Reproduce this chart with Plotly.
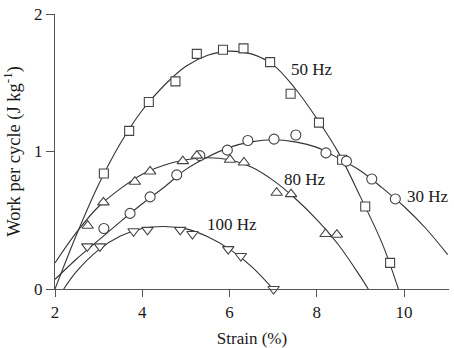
import plotly.graph_objects as go

# ---- data ----
# 50 Hz (squares)
sq_x = [3.12, 3.70, 4.15, 4.76, 5.25, 5.85, 6.32, 6.93, 7.40, 8.05, 8.58, 9.11, 9.68]
sq_y = [0.84, 1.15, 1.36, 1.51, 1.71, 1.74, 1.75, 1.65, 1.42, 1.21, 0.94, 0.60, 0.19]
fit50_x = [2.0, 2.5, 3.0, 3.5, 4.0, 4.5, 5.0, 5.5, 6.0, 6.5, 7.0, 7.5, 8.0, 8.5, 9.0, 9.5, 9.87]
fit50_y = [0.0, 0.40, 0.76, 1.06, 1.30, 1.48, 1.62, 1.70, 1.73, 1.71, 1.63, 1.46, 1.24, 0.99, 0.67, 0.33, 0.0]

# 30 Hz (circles)
ci_x = [3.12, 3.72, 4.18, 4.79, 5.32, 5.95, 6.42, 7.02, 7.52, 8.21, 8.68, 9.26, 9.80]
ci_y = [0.44, 0.55, 0.67, 0.83, 0.97, 1.01, 1.08, 1.09, 1.12, 0.99, 0.93, 0.80, 0.655]
fit30_x = [2.0, 2.5, 3.0, 3.5, 4.0, 4.5, 5.0, 5.5, 6.0, 6.5, 7.0, 7.5, 8.0, 8.5, 9.0, 9.5, 10.0, 10.5, 11.0]
fit30_y = [0.07, 0.22, 0.355, 0.49, 0.62, 0.74, 0.87, 0.96, 1.03, 1.07, 1.085, 1.07, 1.03, 0.95, 0.86, 0.735, 0.60, 0.44, 0.25]

# 80 Hz (triangles up)
tu_x = [2.75, 3.11, 3.83, 4.18, 4.93, 5.25, 6.01, 6.33, 7.08, 7.41, 8.20, 8.46]
tu_y = [0.46, 0.63, 0.78, 0.855, 0.93, 0.97, 0.94, 0.92, 0.70, 0.69, 0.40, 0.395]
fit80_x = [2.0, 2.5, 3.0, 3.5, 4.0, 4.5, 5.0, 5.5, 6.0, 6.5, 7.0, 7.5, 8.0, 8.5, 9.0, 9.18]
fit80_y = [0.19, 0.415, 0.60, 0.73, 0.835, 0.90, 0.94, 0.955, 0.94, 0.887, 0.79, 0.66, 0.505, 0.32, 0.09, 0.0]

# 100 Hz (triangles down)
td_x = [2.74, 3.03, 3.80, 4.12, 4.87, 5.15, 5.97, 6.26, 7.01]
td_y = [0.31, 0.31, 0.42, 0.43, 0.43, 0.40, 0.29, 0.24, 0.0]
fit100_x = [2.2, 2.5, 3.0, 3.5, 4.0, 4.5, 5.0, 5.5, 6.0, 6.5, 7.0]
fit100_y = [0.0, 0.13, 0.285, 0.385, 0.44, 0.455, 0.437, 0.38, 0.29, 0.165, 0.0]

labels = ["50 Hz", "30 Hz", "80 Hz", "100 Hz"]
label_x = [7.37, 10.03, 7.20, 5.44]
label_y = [1.593, 0.675, 0.80, 0.468]

x_ticks = [2, 4, 6, 8, 10]
y_ticks = [0, 1, 2]

LINE = "#333333"
FONT = "Liberation Serif"

fig = go.Figure()
for fx, fy in [(fit50_x, fit50_y), (fit30_x, fit30_y), (fit80_x, fit80_y), (fit100_x, fit100_y)]:
    fig.add_trace(go.Scatter(x=fx, y=fy, mode="lines",
                             line=dict(color=LINE, width=1.1, shape="spline", smoothing=1.0),
                             hoverinfo="skip", showlegend=False, cliponaxis=True))

for mx, my, sym, sz in [(sq_x, sq_y, "square", 9), (ci_x, ci_y, "circle", 10),
                        (tu_x, tu_y, "triangle-up", 10), (td_x, td_y, "triangle-down", 10)]:
    fig.add_trace(go.Scatter(x=mx, y=my, mode="markers",
                             marker=dict(symbol=sym, size=sz, color="white",
                                         line=dict(color="#444444", width=1.1)),
                             showlegend=False, cliponaxis=False))

for t, lx, ly in zip(labels, label_x, label_y):
    fig.add_annotation(x=lx, y=ly, text=t, showarrow=False, xanchor="left", yanchor="middle",
                       font=dict(family=FONT, size=17, color="#1a1a1a"))

fig.update_layout(
    width=454, height=348,
    margin=dict(l=55, r=5, t=14, b=58.5, autoexpand=False),
    paper_bgcolor="white", plot_bgcolor="white",
    font=dict(family=FONT, size=17, color="#1a1a1a"),
    xaxis=dict(range=[2, 11.03], tickvals=x_ticks, ticks="outside", ticklen=7, tickcolor="#555555",
               showline=True, linecolor="#555555", linewidth=1.2, showgrid=False, zeroline=False,
               tickfont=dict(family=FONT, size=17),
               title=dict(text="Strain (%)", standoff=12, font=dict(family=FONT, size=17)),
               automargin=False),
    yaxis=dict(range=[0, 2], tickvals=y_ticks, ticks="outside", ticklen=8, tickcolor="#555555",
               showline=True, linecolor="#555555", linewidth=1.2, showgrid=False, zeroline=False,
               tickfont=dict(family=FONT, size=17),
               title=dict(text="Work per cycle (J kg<sup>-1</sup>)", standoff=13,
                          font=dict(family=FONT, size=18.5)),
               automargin=False),
)

fig.write_html("out.html")
